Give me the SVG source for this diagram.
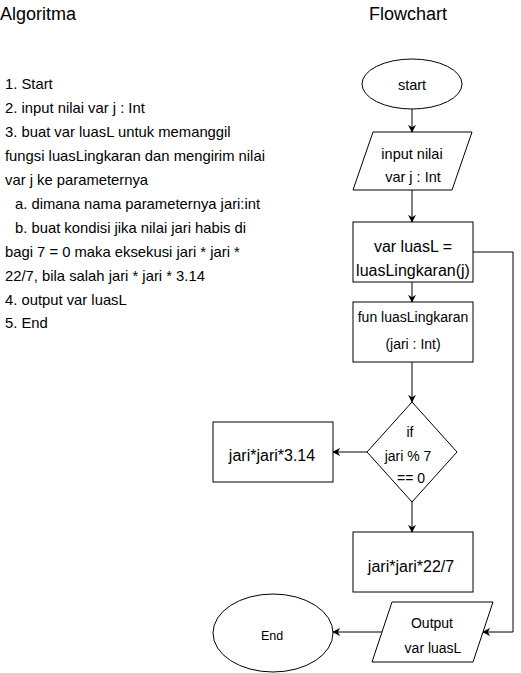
<svg xmlns="http://www.w3.org/2000/svg" width="521" height="673" viewBox="0 0 521 673">
<defs>
<marker id="ah" viewBox="0 0 10 10" refX="9" refY="5" markerWidth="8" markerHeight="8" markerUnits="userSpaceOnUse" orient="auto">
<path d="M0,0 L10,5 L0,10 L3,5 Z" fill="#000"/>
</marker>
<style>
text{font-family:"Liberation Sans",Arial,sans-serif;fill:#000}
.shape{fill:#fff;stroke:#000;stroke-width:1}
.conn{fill:none;stroke:#000;stroke-width:1;marker-end:url(#ah)}
.title{font-size:18px}
.alg{font-size:14.8px}
.n{font-size:14.5px;text-anchor:middle}
.m{font-size:14px;text-anchor:middle}
.big{font-size:16px;text-anchor:middle}
.sm{font-size:12.5px;text-anchor:middle}
</style>
</defs>
<rect width="521" height="673" fill="#fff"/>
<g id="titles">
<text class="title" x="0" y="20">Algoritma</text>
<text class="title" x="408" y="20" text-anchor="middle">Flowchart</text>
</g>
<g id="algorithm" class="alg">
<text x="5" y="89">1. Start</text>
<text x="5" y="113">2. input nilai var j : Int</text>
<text x="5" y="137">3. buat var luasL untuk memanggil</text>
<text x="5" y="161">fungsi luasLingkaran dan mengirim nilai</text>
<text x="5" y="184.5">var j ke parameternya</text>
<text x="15" y="208.5">a. dimana nama parameternya jari:int</text>
<text x="15" y="232.5">b. buat kondisi jika nilai jari habis di</text>
<text x="5" y="256.5">bagi 7 = 0 maka eksekusi jari * jari *</text>
<text x="5" y="280.5">22/7, bila salah jari * jari * 3.14</text>
<text x="5" y="304.5">4. output var luasL</text>
<text x="5" y="328">5. End</text>
</g>
<g id="connectors">
<path class="conn" d="M412,109 L412,132"/>
<path class="conn" d="M412,190 L412,222"/>
<path class="conn" d="M412,282 L412,302"/>
<path class="conn" d="M412,362 L412,402"/>
<path class="conn" d="M367,452 L333,452"/>
<path class="conn" d="M412,502 L412,532"/>
<path class="conn" d="M382,632 L333,632"/>
<path class="conn" d="M473,252 L513,252 L513,632 L483,632"/>
</g>
<g id="start">
<ellipse class="shape" cx="412" cy="84" rx="50" ry="25"/>
<text class="n" x="412" y="90">start</text>
</g>
<g id="input">
<polygon class="shape" points="373,132 472,132 452,190 353,190"/>
<text class="n" x="412" y="159">input nilai</text>
<text class="n" x="413" y="182">var j : Int</text>
</g>
<g id="callLuas">
<rect class="shape" x="353" y="222" width="120" height="60"/>
<text class="big" x="413" y="252">var luasL =</text>
<text class="big" x="413" y="276">luasLingkaran(j)</text>
</g>
<g id="funLuas">
<rect class="shape" x="353" y="302" width="120" height="60"/>
<text class="m" x="413" y="321.5">fun luasLingkaran</text>
<text class="m" x="413" y="349">(jari : Int)</text>
</g>
<g id="decision">
<polygon class="shape" points="412,402 457,452 412,502 367,452"/>
<text class="m" x="410" y="436.5">if</text>
<text class="m" x="408" y="460.5">jari % 7</text>
<text class="m" x="411" y="483">== 0</text>
</g>
<g id="false">
<rect class="shape" x="213" y="422" width="120" height="60"/>
<text class="big" x="272" y="460.5">jari*jari*3.14</text>
</g>
<g id="true">
<rect class="shape" x="353" y="532" width="120" height="60"/>
<text class="big" x="411" y="572">jari*jari*22/7</text>
</g>
<g id="output">
<polygon class="shape" points="392,602 493,602 473,662 372,662"/>
<text class="m" x="432" y="628">Output</text>
<text class="m" x="433" y="653">var luasL</text>
</g>
<g id="end">
<ellipse class="shape" cx="273" cy="633" rx="60" ry="39"/>
<text class="sm" x="272" y="640">End</text>
</g>
</svg>
